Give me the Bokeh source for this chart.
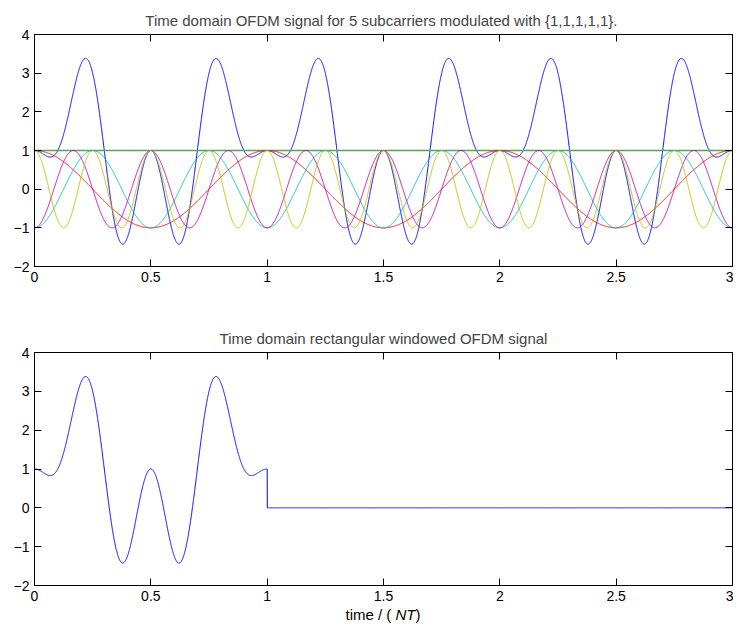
import numpy as np
from bokeh.plotting import figure
from bokeh.layouts import column
from bokeh.models import LinearAxis, FixedTicker, Range1d, Div
from bokeh.embed import file_html
from bokeh.resources import INLINE

# ---- data ----
subcarrier_freq = [0, 1, 2, 3, 4]            # cycles per symbol period NT
subcarrier_symbol = [1, 1, 1, 1, 1]          # modulating symbols
subcarrier_phase_deg = [0, 0, 180, 180, 0]   # carrier phase
subcarrier_colors = ["#4fa84f", "#ff0000", "#00bfbf", "#bf00bf", "#bfbf00"]
sum_color = "#0000ff"
window_len = 1.0                             # rectangular window length (NT)
t_start, t_end, t_step = 0.0, 3.0, 0.0005

x_ticks = [0, 0.5, 1, 1.5, 2, 2.5, 3]
x_tick_labels = ["0", "0.5", "1", "1.5", "2", "2.5", "3"]
y_ticks = [-2, -1, 0, 1, 2, 3, 4]
y_tick_labels = ["\u22122", "\u22121", "0", "1", "2", "3", "4"]

title_top = "Time domain OFDM  signal for 5 subcarriers modulated with {1,1,1,1,1}."
title_bottom = "Time domain rectangular windowed OFDM signal"
xlabel_main = "time / ( "
xlabel_italic = "NT"
xlabel_end = ")"

FONT = "Liberation Sans"

t = np.arange(t_start, t_end + t_step / 2, t_step)
carriers = [s * np.cos(2 * np.pi * f * t + np.deg2rad(ph))
            for f, s, ph in zip(subcarrier_freq, subcarrier_symbol, subcarrier_phase_deg)]
total = np.sum(carriers, axis=0)
windowed = np.where(t <= window_len + 1e-9, total, 0.0)

W = 733
LEFT = 34


def style(p):
    p.xaxis.visible = False
    p.yaxis.visible = False
    p.xgrid.visible = False
    p.ygrid.visible = False
    p.outline_line_color = "black"
    p.outline_line_width = 1
    xo = {v: l for v, l in zip(x_ticks, x_tick_labels)}
    yo = {v: l for v, l in zip(y_ticks, y_tick_labels)}
    for side, ticks, over in (("below", x_ticks, xo), ("left", y_ticks, yo),
                              ("above", x_ticks, None), ("right", y_ticks, None)):
        ax = LinearAxis(ticker=FixedTicker(ticks=ticks))
        ax.major_tick_in = 7
        ax.major_tick_out = 0
        ax.minor_tick_line_color = None
        ax.axis_line_color = "black"
        ax.major_tick_line_color = "black"
        if over is None:
            ax.major_label_text_font_size = "1px"
            ax.major_label_text_color = None
            ax.major_label_standoff = 0
        else:
            ax.major_label_overrides = over
            ax.major_label_text_font = FONT
            ax.major_label_text_font_size = "14px"
            ax.major_label_text_color = "black"
            ax.major_label_standoff = 5
        p.add_layout(ax, side)
    p.title.text_font = FONT
    p.title.text_font_size = "15px"
    p.title.text_font_style = "normal"
    p.title.align = "center"
    p.title.standoff = 12


p1 = figure(width=W, height=300, output_backend="svg", toolbar_location=None,
            x_range=Range1d(0, 3), y_range=Range1d(-2, 4), title=title_top,
            min_border_left=LEFT, min_border_right=1, min_border_top=34, min_border_bottom=34)
style(p1)
p1.line(t, total, color=sum_color, line_width=1)
for i, (c, col) in enumerate(zip(carriers, subcarrier_colors)):
    p1.line(t, c, color=col, line_width=1.6 if i == 0 else 1)

p2 = figure(width=W, height=306, output_backend="svg", toolbar_location=None,
            x_range=Range1d(0, 3), y_range=Range1d(-2, 4), title=title_bottom,
            min_border_left=LEFT, min_border_right=1, min_border_top=52, min_border_bottom=21)
style(p2)
p2.line(t, windowed, color=sum_color, line_width=1)

xlabel = Div(
    text=('<div style="width:698px;margin-left:%dpx;text-align:center;'
          'font-family:\'Liberation Sans\';font-size:15px;line-height:17px;color:black;'
          'white-space:pre;">%s<i>%s</i>%s</div>') % (LEFT, xlabel_main, xlabel_italic, xlabel_end),
    width=W, height=17, margin=(0, 0, 0, 0))

layout = column(p1, p2, xlabel, spacing=0)
open("out.html", "w").write(file_html(layout, INLINE))
